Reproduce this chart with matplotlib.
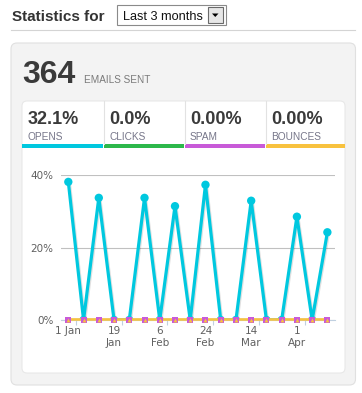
import matplotlib
matplotlib.use("Agg")
import matplotlib.pyplot as plt
import matplotlib.patheffects as pe
from matplotlib.patches import FancyBboxPatch, Rectangle, Polygon

# ---- data ----
period_label = "Last 3 months"
emails_sent = 364
stat_names = ["OPENS", "CLICKS", "SPAM", "BOUNCES"]
stat_values = ["32.1%", "0.0%", "0.00%", "0.00%"]
stat_colors = ["#00c8df", "#2db84b", "#c85ad8", "#f8c23e"]

# one point every 6 days, 1 Jan .. 13 Apr
categories = ["1 Jan", "7 Jan", "13 Jan", "19 Jan", "25 Jan", "31 Jan",
              "6 Feb", "12 Feb", "18 Feb", "24 Feb", "2 Mar", "8 Mar",
              "14 Mar", "20 Mar", "26 Mar", "1 Apr", "7 Apr", "13 Apr"]
tick_labels = ["1 Jan", "19\nJan", "6\nFeb", "24\nFeb", "14\nMar", "1\nApr"]
opens = [38.1, 0, 33.7, 0, 0, 33.7, 0, 31.4, 0, 37.3, 0, 0, 32.9, 0, 0, 28.5, 0, 24.2]
clicks = [0] * 18
spam = [0] * 18
bounces = [0] * 18

W, H = 362, 393
fig = plt.figure(figsize=(W / 100, H / 100), dpi=100)
fig.patch.set_facecolor("white")

# background layer in pixel coordinates (y down)
bg = fig.add_axes([0, 0, 1, 1])
bg.set_xlim(0, W)
bg.set_ylim(H, 0)
bg.axis("off")

hfont = ["Liberation Sans", "DejaVu Sans"]

bg.text(12.5, 21, "Statistics for", fontsize=11, fontweight="bold", color="#333333",
        family=hfont, va="baseline", ha="left")
# dropdown
bg.add_patch(Rectangle((116.5, 4.5), 109, 20, facecolor="white", edgecolor="#8a8a8a", lw=0.8))
bg.text(123, 19.5, period_label, fontsize=9.2, color="#111111", family=hfont,
        va="baseline", ha="left")
bg.add_patch(Rectangle((207.5, 6.8), 15.5, 16, facecolor="#e6e6e6", edgecolor="#6a6a6a", lw=0.8))
bg.add_patch(Polygon([(212, 13.5), (218.5, 13.5), (215.25, 17)], closed=True,
                     facecolor="black", edgecolor="none"))
bg.plot([11, 355], [30, 30], color="#d4d4d4", lw=0.8)

# gray panel and white card
bg.add_patch(FancyBboxPatch((11, 43), 344.5, 342, boxstyle="round,pad=0,rounding_size=6",
                            facecolor="#f3f3f3", edgecolor="#e0e0e0", lw=0.8))
bg.add_patch(FancyBboxPatch((22, 101), 323, 272, boxstyle="round,pad=0,rounding_size=5",
                            facecolor="white", edgecolor="#e8e8e8", lw=0.8))

bg.text(22, 83, str(emails_sent), fontsize=23, fontweight="bold", color="#3a3a3a",
        family=hfont, va="baseline", ha="left")
bg.text(84, 83, "EMAILS SENT", fontsize=7.2, color="#7a7a7a", family=hfont,
        va="baseline", ha="left")

# stat tabs
tab_x = [22, 103.5, 184.5, 265.5, 345]
for i, (name, val, col) in enumerate(zip(stat_names, stat_values, stat_colors)):
    x0, x1 = tab_x[i], tab_x[i + 1]
    bg.text(x0 + 5.5, 124.5, val, fontsize=13, fontweight="bold", color="#3a3a3a",
            family=hfont, va="baseline", ha="left")
    bg.text(x0 + 5.5, 140.5, name, fontsize=7.3, color="#77778a", family=hfont,
            va="baseline", ha="left")
    bg.add_patch(Rectangle((x0 + (0 if i == 0 else 0.8), 144.2), x1 - x0 - 1.6 + (0.8 if i in (0, 3) else 0),
                           3.6, facecolor=col, edgecolor="none"))
    if i > 0:
        bg.plot([x0, x0], [101, 144], color="#e2e2e2", lw=0.8)

# ---- chart ----
left, right = 60.7 / W, 335 / W
bottom, top = 1 - 320 / H, 1 - 175 / H
ax = fig.add_axes([left, bottom, right - left, top - bottom])
ax.set_facecolor("none")
x = list(range(len(categories)))
ax.set_xlim(-0.5, len(categories) - 0.5)
ax.set_ylim(0, 40)

for s in ["top", "right", "left"]:
    ax.spines[s].set_visible(False)
ax.spines["bottom"].set_color("#c0d0e0")
ax.spines["bottom"].set_linewidth(0.8)

ax.set_yticks([0, 20, 40])
ax.set_yticklabels(["0%", "20%", "40%"])
ax.yaxis.grid(True, color="#c0c0c0", lw=0.8)
ax.set_axisbelow(True)
ax.tick_params(axis="y", length=0, pad=5.3, labelsize=7.5, labelcolor="#606060")

ax.set_xticks(x[::3])
ax.set_xticklabels(tick_labels, linespacing=1.25)
ax.set_xticks([i + 0.5 for i in x[::3]], minor=True)
ax.tick_params(axis="x", which="major", length=0, pad=4.5, labelsize=7.5, labelcolor="#606060")
ax.tick_params(axis="x", which="minor", length=3.6, width=0.8, color="#c0d0e0")

shadow = [pe.SimpleLineShadow(offset=(0.8, -0.8), shadow_color="#000000", alpha=0.12),
          pe.Normal()]
ax.plot(x, opens, color=stat_colors[0], lw=2.3, marker="o", markersize=6,
        markeredgewidth=0, path_effects=shadow, zorder=3)
ax.plot(x, clicks, color=stat_colors[1], lw=2.3, zorder=4)
ax.plot(x, spam, color=stat_colors[2], lw=2.3, zorder=5)
ax.plot(x, bounces, color=stat_colors[3], lw=2.6, zorder=6)
ax.plot(x, bounces, color=stat_colors[3], lw=1.1, clip_on=False, zorder=6)
ax.plot(x, spam, ls="none", marker="s", markersize=4.2, color=stat_colors[2],
        markeredgewidth=0, clip_on=False, zorder=7)
ax.plot(x, bounces, ls="none", marker="^", markersize=2.8, color=stat_colors[3],
        markeredgewidth=0, clip_on=False, zorder=8)

fig.savefig("out.png", dpi=100)
